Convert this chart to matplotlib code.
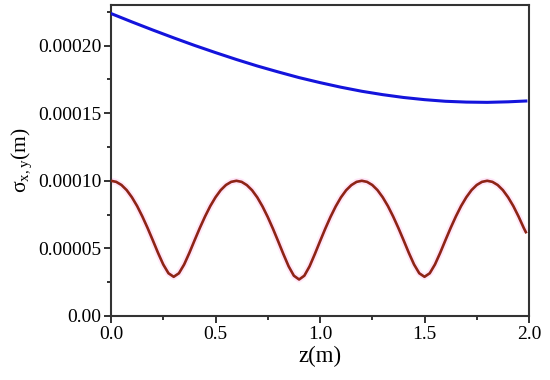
import matplotlib
matplotlib.use("Agg")
import matplotlib.pyplot as plt
from matplotlib.ticker import MultipleLocator, FixedLocator, FixedFormatter

plt.rcParams['font.family'] = ['Liberation Serif', 'DejaVu Serif']
plt.rcParams['mathtext.fontset'] = 'custom'
plt.rcParams['mathtext.rm'] = 'Liberation Serif'
plt.rcParams['mathtext.it'] = 'Liberation Serif'

# Blue envelope (sigma_x), values in units of 1e-4 m
z_blue = [0.0, 0.1, 0.2, 0.3, 0.4, 0.5, 0.6, 0.7, 0.8, 0.9, 1.0,
          1.1, 1.2, 1.3, 1.4, 1.5, 1.6, 1.7, 1.8, 1.9, 1.985]
s_blue = [2.237, 2.175, 2.115, 2.057, 2.001, 1.948, 1.897, 1.849, 1.805,
          1.763, 1.726, 1.692, 1.662, 1.637, 1.616, 1.600, 1.588, 1.582,
          1.580, 1.584, 1.590]

# Red oscillating envelope (sigma_y), values in units of 1e-4 m
z_red = [0.000, 0.025, 0.050, 0.075, 0.100, 0.125, 0.150, 0.175, 0.200, 0.225,
         0.250, 0.275, 0.300, 0.325, 0.350, 0.375, 0.400, 0.425, 0.450, 0.475,
         0.500, 0.525, 0.550, 0.575, 0.600, 0.625, 0.650, 0.675, 0.700, 0.725,
         0.750, 0.775, 0.800, 0.825, 0.850, 0.875, 0.900, 0.925, 0.950, 0.975,
         1.000, 1.025, 1.050, 1.075, 1.100, 1.125, 1.150, 1.175, 1.200, 1.225,
         1.250, 1.275, 1.300, 1.325, 1.350, 1.375, 1.400, 1.425, 1.450, 1.475,
         1.500, 1.525, 1.550, 1.575, 1.600, 1.625, 1.650, 1.675, 1.700, 1.725,
         1.750, 1.775, 1.800, 1.825, 1.850, 1.875, 1.900, 1.925, 1.950, 1.975,
         1.985]
s_red = [1.000, 0.992, 0.969, 0.931, 0.878, 0.813, 0.736, 0.651, 0.560, 0.467,
         0.381, 0.316, 0.290, 0.316, 0.381, 0.467, 0.560, 0.651, 0.736, 0.813,
         0.878, 0.931, 0.969, 0.992, 1.000, 0.992, 0.968, 0.930, 0.877, 0.810,
         0.732, 0.645, 0.552, 0.457, 0.367, 0.298, 0.270, 0.298, 0.367, 0.457,
         0.552, 0.645, 0.732, 0.810, 0.877, 0.930, 0.968, 0.992, 1.000, 0.992,
         0.969, 0.931, 0.878, 0.813, 0.736, 0.651, 0.560, 0.467, 0.381, 0.316,
         0.290, 0.316, 0.381, 0.467, 0.560, 0.651, 0.736, 0.813, 0.878, 0.931,
         0.969, 0.992, 1.000, 0.992, 0.969, 0.931, 0.878, 0.813, 0.736, 0.651,
         0.620]

yticks = [0.0, 0.00005, 0.00010, 0.00015, 0.00020]
ytick_labels = ['0.00', '0.00005', '0.00010', '0.00015', '0.00020']
xticks = [0.0, 0.5, 1.0, 1.5, 2.0]
xtick_labels = ['0.0', '0.5', '1.0', '1.5', '2.0']

fig = plt.figure(figsize=(5.5, 3.8), dpi=100)
ax = fig.add_axes([111/550, 64/380, 418/550, 311/380])

yb = [v * 1e-4 for v in s_blue]
yr = [v * 1e-4 for v in s_red]
ax.plot(z_red, yr, color='#FFE6F8', lw=4.5, solid_capstyle='butt', zorder=2)
ax.plot(z_blue, yb, color='#1414DC', lw=2.2, zorder=3)
ax.plot(z_red, yr, color='#8E2416', lw=1.9, zorder=4)

ax.set_xlim(0, 2.0)
ax.set_ylim(0, 0.000230)

ax.xaxis.set_major_locator(FixedLocator(xticks))
ax.xaxis.set_major_formatter(FixedFormatter(xtick_labels))
ax.yaxis.set_major_locator(FixedLocator(yticks))
ax.yaxis.set_major_formatter(FixedFormatter(ytick_labels))
ax.xaxis.set_minor_locator(MultipleLocator(0.25))
ax.yaxis.set_minor_locator(MultipleLocator(0.000025))

ax.tick_params(which='both', direction='out', top=False, right=False,
               colors='#222222', labelcolor='black', width=1.3)
ax.tick_params(which='major', length=5, labelsize=14, pad=2)
ax.tick_params(which='minor', length=3)
for s in ax.spines.values():
    s.set_linewidth(1.5)
    s.set_color('#333333')

ax.set_xlabel('z(m)', fontsize=16.5, labelpad=2)
ax.set_ylabel(r'$\mathrm{\sigma_{x,y}}$(m)', fontsize=15.5, labelpad=3)

fig.savefig('out.png', dpi=100)
